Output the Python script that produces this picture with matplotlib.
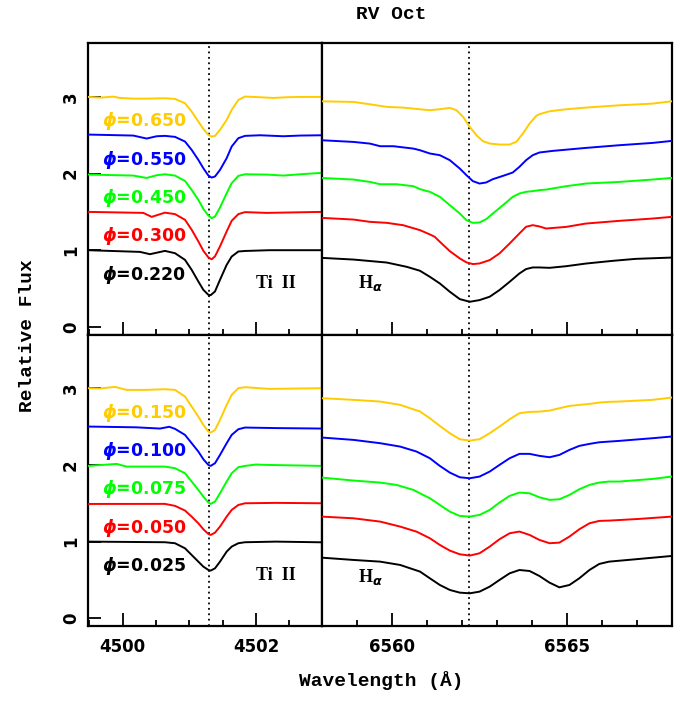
import matplotlib
matplotlib.use("Agg")
import matplotlib.pyplot as plt
from matplotlib.ticker import MultipleLocator
from matplotlib.font_manager import FontProperties

plt.rcParams['mathtext.fontset'] = 'custom'
plt.rcParams['mathtext.it'] = 'DejaVu Sans:bold:italic'
plt.rcParams['mathtext.rm'] = 'DejaVu Sans:bold'
plt.rcParams['mathtext.bf'] = 'DejaVu Sans:bold'

colors = ['#ffcc00', '#0000ff', '#00ff00', '#ff0000', '#000000']

# ---------------- Ti II, upper (phases 0.650 ... 0.220) ----------------
ti_top_labels = ['0.650', '0.550', '0.450', '0.300', '0.220']
ti_top_yellow_x = [4499.485, 4499.66, 4499.86, 4499.96, 4500.16, 4500.36, 4500.634, 4500.785, 4500.935, 4501.035,
                   4501.135, 4501.21, 4501.285, 4501.335, 4501.385, 4501.46, 4501.56, 4501.635, 4501.735, 4501.835,
                   4502.06, 4502.26, 4502.46, 4502.66, 4502.985]
ti_top_yellow_y = [3.000, 2.991, 3.004, 2.987, 2.978, 2.978, 2.983, 2.974, 2.918, 2.809,
                   2.679, 2.583, 2.505, 2.483, 2.492, 2.570, 2.701, 2.831, 2.961, 3.005,
                   2.996, 2.987, 2.996, 3.000, 3.000]
ti_top_blue_x = [4499.485, 4500.16, 4500.36, 4500.51, 4500.634, 4500.785, 4500.935, 4501.035, 4501.135, 4501.21,
                 4501.285, 4501.335, 4501.385, 4501.46, 4501.56, 4501.635, 4501.735, 4501.835, 4502.06, 4502.41,
                 4502.66, 4502.985]
ti_top_blue_y = [2.509, 2.496, 2.457, 2.487, 2.492, 2.479, 2.418, 2.309, 2.179, 2.070,
                 1.975, 1.948, 1.962, 2.048, 2.201, 2.353, 2.462, 2.492, 2.500, 2.487,
                 2.496, 2.500]
ti_top_green_x = [4499.485, 4500.16, 4500.36, 4500.51, 4500.634, 4500.785, 4500.935, 4501.035, 4501.135, 4501.21,
                  4501.285, 4501.335, 4501.385, 4501.46, 4501.56, 4501.635, 4501.735, 4501.835, 4502.16, 4502.41,
                  4502.66, 4502.985]
ti_top_green_y = [1.987, 1.974, 1.943, 1.978, 1.991, 1.974, 1.904, 1.787, 1.657, 1.539,
                  1.453, 1.418, 1.440, 1.557, 1.744, 1.875, 1.970, 1.991, 1.987, 1.974,
                  1.991, 2.009]
ti_top_red_x = [4499.485, 4500.31, 4500.435, 4500.634, 4500.785, 4500.935, 4501.035, 4501.135, 4501.21, 4501.285,
                4501.335, 4501.385, 4501.46, 4501.56, 4501.635, 4501.735, 4501.835, 4502.16, 4502.985]
ti_top_red_y = [1.500, 1.487, 1.435, 1.490, 1.471, 1.397, 1.267, 1.115, 0.993, 0.906,
                0.881, 0.920, 1.050, 1.245, 1.384, 1.471, 1.497, 1.487, 1.500]
ti_top_black_x = [4499.485, 4500.26, 4500.41, 4500.634, 4500.785, 4500.935, 4501.035, 4501.135, 4501.21, 4501.285,
                  4501.32, 4501.385, 4501.46, 4501.56, 4501.635, 4501.735, 4501.835, 4502.2, 4502.985]
ti_top_black_y = [1.000, 0.978, 0.948, 0.991, 0.961, 0.874, 0.744, 0.592, 0.483, 0.418,
                  0.413, 0.462, 0.614, 0.809, 0.917, 0.983, 0.990, 1.000, 1.000]

# ---------------- Ti II, lower (phases 0.150 ... 0.025) ----------------
ti_bot_labels = ['0.150', '0.100', '0.075', '0.050', '0.025']
ti_bot_yellow_x = [4499.485, 4499.66, 4499.885, 4500.06, 4500.36, 4500.634, 4500.785, 4500.935, 4501.035, 4501.135,
                   4501.21, 4501.285, 4501.32, 4501.385, 4501.46, 4501.56, 4501.635, 4501.735, 4501.835, 4502.2,
                   4502.985]
ti_bot_yellow_y = [3.000, 2.996, 3.017, 2.978, 2.978, 2.987, 2.978, 2.891, 2.761, 2.630,
                   2.522, 2.435, 2.422, 2.456, 2.587, 2.782, 2.913, 3.000, 3.013, 2.991,
                   3.000]
ti_bot_blue_x = [4499.485, 4500.2, 4500.56, 4500.70, 4500.785, 4500.935, 4501.035, 4501.135, 4501.21, 4501.285,
                 4501.32, 4501.385, 4501.46, 4501.56, 4501.635, 4501.735, 4501.835, 4502.3, 4502.985]
ti_bot_blue_y = [2.500, 2.490, 2.474, 2.497, 2.470, 2.391, 2.283, 2.174, 2.074, 2.000,
                 1.987, 2.022, 2.130, 2.283, 2.391, 2.465, 2.487, 2.480, 2.474]
ti_bot_green_x = [4499.485, 4499.91, 4500.06, 4500.36, 4500.634, 4500.785, 4500.935, 4501.035, 4501.135, 4501.21,
                  4501.285, 4501.32, 4501.385, 4501.46, 4501.56, 4501.635, 4501.735, 4501.835, 4502.0, 4502.16,
                  4502.985]
ti_bot_green_y = [1.987, 2.013, 1.978, 1.978, 1.978, 1.957, 1.891, 1.783, 1.674, 1.587,
                  1.509, 1.492, 1.522, 1.631, 1.783, 1.891, 1.970, 1.987, 2.005, 2.000,
                  1.987]
ti_bot_red_x = [4499.485, 4500.634, 4500.785, 4500.935, 4501.035, 4501.135, 4501.21, 4501.285, 4501.32, 4501.385,
                4501.46, 4501.56, 4501.635, 4501.735, 4501.835, 4502.3, 4502.985]
ti_bot_red_y = [1.491, 1.492, 1.466, 1.405, 1.326, 1.239, 1.161, 1.100, 1.087, 1.117,
                1.196, 1.326, 1.413, 1.478, 1.500, 1.505, 1.500]
ti_bot_black_x = [4499.485, 4500.634, 4500.785, 4500.935, 4501.035, 4501.135, 4501.21, 4501.285, 4501.32, 4501.385,
                  4501.46, 4501.56, 4501.635, 4501.735, 4501.835, 4502.3, 4502.985]
ti_bot_black_y = [1.000, 0.992, 0.979, 0.913, 0.826, 0.739, 0.674, 0.631, 0.622, 0.652,
                  0.739, 0.870, 0.935, 0.979, 0.992, 1.000, 0.991]

# ---------------- H alpha, upper ----------------
ha_top_yellow_x = [6558.0, 6558.91, 6559.38, 6559.86, 6560.33, 6560.81, 6561.09, 6561.375, 6561.66, 6561.85,
                   6562.04, 6562.23, 6562.42, 6562.61, 6562.80, 6563.08, 6563.37, 6563.56, 6563.75, 6563.94,
                   6564.13, 6564.22, 6564.51, 6564.98, 6565.55, 6566.50, 6567.45, 6568.0]
ha_top_yellow_y = [2.943, 2.935, 2.904, 2.870, 2.861, 2.839, 2.827, 2.840, 2.857, 2.827,
                   2.740, 2.609, 2.501, 2.422, 2.392, 2.379, 2.379, 2.414, 2.523, 2.653,
                   2.753, 2.775, 2.813, 2.839, 2.861, 2.891, 2.913, 2.943]
ha_top_blue_x = [6558.0, 6558.91, 6559.38, 6559.67, 6560.05, 6560.62, 6560.806, 6561.09, 6561.375, 6561.66,
                 6561.944, 6562.135, 6562.32, 6562.51, 6562.70, 6562.89, 6563.18, 6563.46, 6563.65, 6563.84,
                 6564.03, 6564.22, 6564.60, 6565.55, 6566.50, 6567.45, 6568.0]
ha_top_blue_y = [2.435, 2.413, 2.391, 2.357, 2.357, 2.326, 2.305, 2.262, 2.240, 2.175,
                 2.066, 1.979, 1.901, 1.870, 1.884, 1.927, 1.970, 2.014, 2.088, 2.175,
                 2.240, 2.275, 2.296, 2.335, 2.370, 2.400, 2.426]
ha_top_green_x = [6558.0, 6558.91, 6559.38, 6559.67, 6560.14, 6560.62, 6560.806, 6561.09, 6561.375, 6561.66,
                  6561.944, 6562.135, 6562.32, 6562.51, 6562.70, 6562.89, 6563.18, 6563.46, 6563.65, 6563.84,
                  6564.03, 6564.22, 6564.41, 6564.98, 6565.55, 6566.50, 6567.45, 6568.0]
ha_top_green_y = [1.943, 1.922, 1.891, 1.861, 1.861, 1.835, 1.797, 1.762, 1.697, 1.588,
                  1.479, 1.392, 1.357, 1.362, 1.405, 1.479, 1.588, 1.697, 1.740, 1.762,
                  1.771, 1.784, 1.791, 1.835, 1.870, 1.891, 1.922, 1.943]
ha_top_red_x = [6558.0, 6558.91, 6559.38, 6559.86, 6560.33, 6560.806, 6561.09, 6561.23, 6561.375, 6561.66,
                6561.944, 6562.135, 6562.32, 6562.51, 6562.80, 6563.08, 6563.37, 6563.65, 6563.84, 6564.03,
                6564.22, 6564.41, 6564.98, 6565.55, 6566.50, 6567.45, 6568.0]
ha_top_red_y = [1.422, 1.400, 1.370, 1.357, 1.326, 1.262, 1.206, 1.175, 1.110, 0.988,
                0.893, 0.841, 0.819, 0.827, 0.871, 0.958, 1.088, 1.219, 1.306, 1.327,
                1.310, 1.283, 1.304, 1.348, 1.383, 1.413, 1.435]
ha_top_black_x = [6558.0, 6558.91, 6559.86, 6560.43, 6560.806, 6561.09, 6561.375, 6561.66, 6561.944, 6562.23,
                  6562.51, 6562.80, 6563.08, 6563.37, 6563.65, 6563.84, 6564.03, 6564.22, 6564.51, 6564.98,
                  6565.55, 6566.31, 6566.97, 6568.0]
ha_top_black_y = [0.900, 0.878, 0.839, 0.783, 0.732, 0.653, 0.566, 0.458, 0.362, 0.327,
                  0.349, 0.393, 0.480, 0.588, 0.697, 0.754, 0.775, 0.775, 0.770, 0.791,
                  0.826, 0.861, 0.887, 0.904]

# ---------------- H alpha, lower ----------------
ha_bot_yellow_x = [6558.0, 6558.91, 6559.67, 6560.24, 6560.81, 6561.09, 6561.375, 6561.66, 6561.944, 6562.23,
                   6562.51, 6562.80, 6563.08, 6563.37, 6563.65, 6563.94, 6564.22, 6564.51, 6564.79, 6565.08,
                   6565.36, 6565.65, 6565.93, 6566.21, 6566.50, 6567.45, 6568.0]
ha_bot_yellow_y = [2.870, 2.848, 2.826, 2.783, 2.696, 2.608, 2.508, 2.413, 2.335, 2.317,
                   2.335, 2.413, 2.500, 2.595, 2.674, 2.691, 2.695, 2.708, 2.739, 2.769,
                   2.782, 2.795, 2.813, 2.822, 2.826, 2.848, 2.878]
ha_bot_blue_x = [6558.0, 6558.91, 6559.67, 6560.24, 6560.71, 6561.09, 6561.375, 6561.66, 6561.944, 6562.23,
                 6562.51, 6562.80, 6563.08, 6563.37, 6563.65, 6563.94, 6564.22, 6564.51, 6564.79, 6565.08,
                 6565.36, 6565.65, 6565.93, 6566.21, 6566.50, 6567.45, 6568.0]
ha_bot_blue_y = [2.357, 2.326, 2.283, 2.239, 2.174, 2.087, 1.987, 1.900, 1.839, 1.826,
                 1.848, 1.913, 2.000, 2.087, 2.144, 2.144, 2.118, 2.100, 2.130, 2.196,
                 2.248, 2.274, 2.295, 2.304, 2.313, 2.348, 2.370]
ha_bot_green_x = [6558.0, 6558.91, 6559.67, 6560.14, 6560.62, 6561.09, 6561.375, 6561.66, 6561.944, 6562.23,
                  6562.51, 6562.80, 6563.08, 6563.37, 6563.65, 6563.94, 6564.22, 6564.51, 6564.79, 6565.08,
                  6565.36, 6565.65, 6565.93, 6566.21, 6566.50, 6567.45, 6568.0]
ha_bot_green_y = [1.835, 1.796, 1.770, 1.739, 1.674, 1.565, 1.478, 1.391, 1.335, 1.326,
                  1.348, 1.413, 1.509, 1.596, 1.639, 1.630, 1.578, 1.544, 1.552, 1.609,
                  1.683, 1.739, 1.770, 1.783, 1.783, 1.817, 1.848]
ha_bot_red_x = [6558.0, 6558.91, 6559.67, 6560.24, 6560.71, 6561.09, 6561.375, 6561.66, 6561.944, 6562.23,
                6562.51, 6562.80, 6563.08, 6563.37, 6563.65, 6563.94, 6564.22, 6564.51, 6564.79, 6565.08,
                6565.36, 6565.65, 6565.93, 6566.21, 6567.07, 6568.0]
ha_bot_red_y = [1.326, 1.304, 1.261, 1.196, 1.130, 1.044, 0.957, 0.883, 0.835, 0.818,
                0.848, 0.935, 1.031, 1.109, 1.131, 1.087, 1.022, 0.979, 0.987, 1.066,
                1.161, 1.239, 1.270, 1.274, 1.296, 1.326]
ha_bot_black_x = [6558.0, 6558.91, 6559.67, 6560.24, 6560.81, 6561.09, 6561.375, 6561.66, 6561.944, 6562.23,
                  6562.51, 6562.80, 6563.08, 6563.37, 6563.65, 6563.94, 6564.22, 6564.51, 6564.79, 6565.08,
                  6565.36, 6565.65, 6565.93, 6566.21, 6566.97, 6568.0]
ha_bot_black_y = [0.791, 0.761, 0.739, 0.696, 0.609, 0.522, 0.435, 0.370, 0.335, 0.326,
                  0.348, 0.413, 0.500, 0.587, 0.630, 0.617, 0.552, 0.465, 0.404, 0.435,
                  0.522, 0.630, 0.709, 0.739, 0.770, 0.813]

label_offsets = [3.0, 2.5, 2.0, 1.5, 1.0]

ti_line = 4501.295
ha_line = 6562.21

fig = plt.figure(figsize=(6.83, 7.01), dpi=100)
W, H = 683.0, 701.0

def rect(x0, y0, x1, y1):
    return [x0 / W, 1 - y1 / H, (x1 - x0) / W, (y1 - y0) / H]

ax_tl = fig.add_axes(rect(88.3, 43.3, 321.7, 334.5))
ax_tr = fig.add_axes(rect(321.7, 43.3, 671.7, 334.5))
ax_bl = fig.add_axes(rect(88.3, 334.5, 321.7, 626.0))
ax_br = fig.add_axes(rect(321.7, 334.5, 671.7, 626.0))

tick_font = dict(family='DejaVu Sans', weight='bold', size=12)
lw = 1.4

def style(ax, left, bottom):
    for s in ax.spines.values():
        s.set_linewidth(1.6)
    ax.set_ylim(-0.1, 3.7)
    if left:
        ax.set_xlim(4499.485, 4502.985)
        ax.xaxis.set_major_locator(MultipleLocator(2))
        ax.xaxis.set_minor_locator(MultipleLocator(0.5))
        ax.yaxis.set_major_locator(MultipleLocator(1))
        ax.tick_params(axis='y', which='major', direction='in', length=9.5, width=1.3,
                       left=True, right=False, labelleft=True, pad=6)
        for t in ax.get_yticklabels():
            t.set_rotation(90)
            t.set_va('center')
            t.set_fontproperties(FontProperties(**tick_font))
    else:
        ax.set_xlim(6558.0, 6568.0)
        ax.xaxis.set_major_locator(MultipleLocator(5))
        ax.xaxis.set_minor_locator(MultipleLocator(1))
        ax.tick_params(axis='y', which='both', left=False, right=False, labelleft=False)
    ax.tick_params(axis='x', which='major', direction='in', length=9.5, width=1.3,
                   top=False, bottom=True, labelbottom=bottom, pad=9)
    ax.tick_params(axis='x', which='minor', direction='in', length=4.5, width=1.3,
                   top=False, bottom=True)
    if bottom:
        for t in ax.get_xticklabels():
            t.set_fontproperties(FontProperties(**tick_font))

style(ax_tl, True, False)
style(ax_bl, True, True)
style(ax_tr, False, False)
style(ax_br, False, True)

ti_top = [(ti_top_yellow_x, ti_top_yellow_y), (ti_top_blue_x, ti_top_blue_y),
          (ti_top_green_x, ti_top_green_y), (ti_top_red_x, ti_top_red_y),
          (ti_top_black_x, ti_top_black_y)]
ti_bot = [(ti_bot_yellow_x, ti_bot_yellow_y), (ti_bot_blue_x, ti_bot_blue_y),
          (ti_bot_green_x, ti_bot_green_y), (ti_bot_red_x, ti_bot_red_y),
          (ti_bot_black_x, ti_bot_black_y)]
ha_top = [(ha_top_yellow_x, ha_top_yellow_y), (ha_top_blue_x, ha_top_blue_y),
          (ha_top_green_x, ha_top_green_y), (ha_top_red_x, ha_top_red_y),
          (ha_top_black_x, ha_top_black_y)]
ha_bot = [(ha_bot_yellow_x, ha_bot_yellow_y), (ha_bot_blue_x, ha_bot_blue_y),
          (ha_bot_green_x, ha_bot_green_y), (ha_bot_red_x, ha_bot_red_y),
          (ha_bot_black_x, ha_bot_black_y)]

for ax, series in [(ax_tl, ti_top), (ax_bl, ti_bot), (ax_tr, ha_top), (ax_br, ha_bot)]:
    for (x, y), c in zip(series, colors):
        ax.plot(x, y, color=c, lw=lw, solid_joinstyle='round', zorder=3)

for ax, labels in [(ax_tl, ti_top_labels), (ax_bl, ti_bot_labels)]:
    for lab, base, c in zip(labels, label_offsets, colors):
        ax.text(4499.69, base - 0.32, r'$\phi$=' + lab, color=c, fontsize=12.5,
                fontweight='bold', family='DejaVu Sans', ha='left', va='center', zorder=4)

for ax, yy in [(ax_tl, 0.57), (ax_bl, 0.555)]:
    ax.text(4502.0, yy, 'Ti  II', family='Liberation Serif', fontweight='bold',
            fontsize=13, ha='left', va='center')
for ax, yy in [(ax_tr, 0.57), (ax_br, 0.545)]:
    ax.text(6559.04, yy, r'H$_{\alpha}$', family='Liberation Serif', fontweight='bold',
            fontsize=13, ha='left', va='center')

for ax in (ax_tl, ax_bl):
    ax.axvline(ti_line, color='black', lw=1.3, ls=(0, (1, 2)), zorder=2)
for ax in (ax_tr, ax_br):
    ax.axvline(ha_line, color='black', lw=1.3, ls=(0, (1, 2)), zorder=2)

mono = dict(family='Liberation Mono', fontweight='bold', fontsize=14)
fig.text(391.7 / W, 1 - 14.5 / H, 'RV Oct', ha='center', va='center', **mono)
fig.text(380.8 / W, 1 - 681 / H, 'Wavelength (Å)', ha='center', va='center', **mono)
fig.text(28 / W, 1 - 336 / H, 'Relative Flux', ha='center', va='center', rotation=90, **mono)

fig.savefig('out.png', dpi=100)
